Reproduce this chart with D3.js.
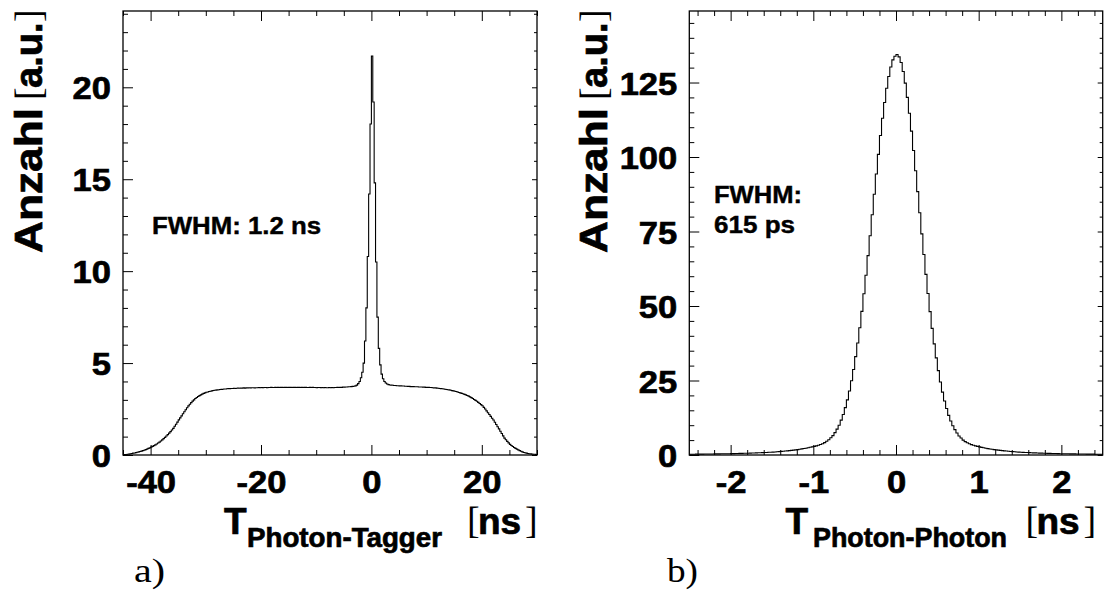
<!DOCTYPE html>
<html><head><meta charset="utf-8">
<script src="https://cdn.jsdelivr.net/npm/d3@7"></script>
<style>body{margin:0;background:#fff} svg{display:block}</style>
</head><body>
<svg id="c" width="1104" height="605"></svg>
<script>
// ---- Panel a) : T(Photon-Tagger), bins of 0.25 ns from -45 ns ----
const tagStart = -45, tagBinWidth = 0.25;
const tagCounts = [
0.01,0.02,0.03,0.04, 0.05,0.07,0.08,0.10, 0.11,0.13,0.15,0.17, 0.19,0.21,0.24,0.26, 0.29,0.32,0.36,0.39,
0.43,0.47,0.51,0.55, 0.60,0.65,0.70,0.76, 0.82,0.89,0.96,1.03, 1.11,1.19,1.27,1.36, 1.45,1.56,1.67,1.79,
1.91,2.02,2.13,2.24, 2.35,2.46,2.57,2.67, 2.76,2.85,2.93,3.00, 3.07,3.13,3.18,3.23, 3.27,3.31,3.35,3.38,
3.41,3.43,3.45,3.47, 3.49,3.51,3.52,3.53, 3.54,3.55,3.56,3.57, 3.58,3.59,3.59,3.60, 3.61,3.61,3.62,3.62,
3.63,3.62,3.63,3.64, 3.63,3.64,3.64,3.65, 3.64,3.65,3.65,3.66, 3.65,3.66,3.66,3.65, 3.66,3.66,3.67,3.66,
3.67,3.66,3.67,3.67, 3.66,3.67,3.67,3.68, 3.67,3.67,3.68,3.67, 3.68,3.67,3.68,3.68, 3.67,3.68,3.68,3.67,
3.68,3.68,3.67,3.68, 3.68,3.67,3.68,3.68, 3.67,3.68,3.67,3.68, 3.68,3.67,3.67,3.68, 3.67,3.68,3.67,3.67,
3.66,3.67,3.67,3.66, 3.67,3.66,3.67,3.66, 3.66,3.67,3.66,3.67, 3.66,3.67,3.67,3.68, 3.67,3.68,3.68,3.69,
3.69,3.70,3.70,3.71, 3.71,3.72,3.73,3.74, 3.76,3.80,3.88,4.00, 4.20,4.50,5.00,6.20, 8.00,10.8,14.2,18.0,
21.7,19.2,14.8,10.5, 7.50,5.80,4.90,4.40, 4.15,4.00,3.92,3.86, 3.83,3.81,3.80,3.79, 3.78,3.78,3.77,3.77,
3.76,3.76,3.75,3.75, 3.74,3.74,3.73,3.73, 3.72,3.72,3.72,3.71, 3.71,3.71,3.70,3.70, 3.70,3.69,3.69,3.68,
3.68,3.68,3.67,3.67, 3.66,3.65,3.65,3.64, 3.63,3.62,3.61,3.60, 3.59,3.58,3.56,3.55, 3.54,3.52,3.50,3.49,
3.47,3.45,3.43,3.40, 3.38,3.35,3.33,3.30, 3.27,3.24,3.20,3.16, 3.12,3.07,3.02,2.97, 2.92,2.86,2.80,2.74,
2.68,2.59,2.50,2.40, 2.30,2.20,2.10,2.00, 1.90,1.78,1.66,1.54, 1.42,1.29,1.17,1.04, 0.92,0.83,0.74,0.66,
0.58,0.52,0.46,0.41, 0.36,0.32,0.28,0.24, 0.20,0.17,0.14,0.12, 0.10,0.08,0.07,0.06, 0.05,0.04,0.04,0.03
];
const tagXDomain = [-45, 30];
const tagYDomain = [0, 24.15];
const tagXTicks = [-40, -20, 0, 20];
const tagYTicks = [0, 5, 10, 15, 20];

// ---- Panel b) : T(Photon-Photon), bins of 0.025 ns from -2.5 ns ----
const ppStart = -2.5, ppBinWidth = 0.025;
const ppCounts = [
0.25,0.26,0.27,0.28,0.29,0.30,0.31,0.32,0.33,0.34,0.35,0.36,0.37,0.38,0.39,0.40,0.41,0.42,0.43,0.44,
0.45,0.47,0.49,0.51,0.53,0.55,0.57,0.59,0.61,0.63,0.66,0.68,0.71,0.74,0.77,0.80,0.83,0.86,0.90,0.94,
0.98,1.03,1.08,1.14,1.20,1.26,1.33,1.40,1.47,1.55,1.63,1.72,1.82,1.93,2.04,2.16,2.29,2.43,2.58,2.74,
2.90,3.07,3.27,3.50,3.80,4.15,4.60,5.10,5.80,6.50,7.50,8.70,10.0,11.7,13.6,15.9,18.5,21.5,24.9,28.7,
33.0,37.6,42.7,48.2,54.1,60.3,66.9,73.6,80.6,87.5,94.3,100.9,107.2,113.0,118.3,123.1,127.0,130.2,132.6,133.8,
134.4,133.6,131.7,128.7,124.8,120.0,114.7,108.7,102.2,95.4,88.4,81.3,74.2,67.3,60.6,54.2,48.1,42.5,37.3,32.6,
28.3,24.5,21.1,18.1,15.6,13.3,11.4,9.8,8.5,7.4,6.4,5.7,5.0,4.5,4.1,3.76,3.48,3.25,3.05,2.89,
2.73,2.57,2.42,2.28,2.15,2.03,1.92,1.80,1.71,1.62,1.54,1.46,1.39,1.32,1.25,1.18,1.12,1.07,1.02,0.97,
0.93,0.89,0.85,0.82,0.79,0.76,0.73,0.70,0.67,0.64,0.62,0.60,0.58,0.56,0.54,0.52,0.50,0.48,0.46,0.44,
0.43,0.42,0.41,0.40,0.39,0.38,0.37,0.36,0.35,0.34,0.33,0.32,0.31,0.30,0.29,0.28,0.27,0.26,0.25,0.24
];
const ppXDomain = [-2.5, 2.5];
const ppYDomain = [0, 149];
const ppXTicks = [-2, -1, 0, 1, 2];
const ppYTicks = [0, 25, 50, 75, 100, 125];

const SANS = '"Liberation Sans", Arial, Helvetica, sans-serif';
const SERIF = '"Liberation Serif", "Times New Roman", serif';
const svg = d3.select('#c');
const TOP = 11, BOT = 455;
const LBL = 32, LBLX = 1.08;   // tick label size and horizontal stretch
const fmt = d => String(d);     // plain hyphen-minus, integers
const HEAVY = 0.7;              // extra stroke to mimic the heavy bold face

function bold(sel, size) {
  return sel.attr('font-family', SANS).attr('font-weight', 'bold').attr('font-size', size)
    .attr('fill', '#000').attr('stroke', '#000').attr('stroke-width', HEAVY);
}

function drawPanel(o) {
  const x = d3.scaleLinear().domain(o.xDomain).range([o.left, o.right]);
  const y = d3.scaleLinear().domain(o.yDomain).range([BOT, TOP]);
  const g = svg.append('g');

  // histogram (step outline)
  const pts = o.counts.map((v, i) => [o.start + i * o.bw, v]);
  pts.push([o.start + o.counts.length * o.bw, o.counts[o.counts.length - 1]]);
  const line = d3.line().x(d => x(d[0])).y(d => y(d[1])).curve(d3.curveStepAfter);
  g.append('path').attr('d', line(pts)).attr('fill', 'none')
    .attr('stroke', '#000').attr('stroke-width', 1.1);

  const styleAxis = sel => sel.attr('font-family', SANS).attr('font-size', LBL)
    .attr('font-weight', 'bold').attr('color', '#000')
    .call(s => s.select('.domain').remove());

  const eq = (a, b) => Math.abs(a - b) < 1e-6;
  const xMinor = o.xMinor.filter(v => !o.xTicks.some(t => eq(t, v)));
  const yMinor = o.yMinor.filter(v => !o.yTicks.some(t => eq(t, v)));

  // bottom
  g.append('g').attr('transform', `translate(0,${BOT})`)
    .call(d3.axisBottom(x).tickValues(o.xTicks).tickFormat(fmt).tickSizeInner(-10).tickSizeOuter(0))
    .call(styleAxis)
    .call(s => s.selectAll('text').attr('y', 38).attr('dy', 0)
      .attr('transform', `scale(${LBLX},1)`).attr('fill', '#000')
      .attr('stroke', '#000').attr('stroke-width', HEAVY));
  g.append('g').attr('transform', `translate(0,${BOT})`)
    .call(d3.axisBottom(x).tickValues(xMinor).tickSizeInner(-5).tickSizeOuter(0).tickFormat(''))
    .call(styleAxis);
  // top
  g.append('g').attr('transform', `translate(0,${TOP})`)
    .call(d3.axisTop(x).tickValues(o.xTicks).tickSizeInner(-10).tickSizeOuter(0).tickFormat(''))
    .call(styleAxis);
  g.append('g').attr('transform', `translate(0,${TOP})`)
    .call(d3.axisTop(x).tickValues(xMinor).tickSizeInner(-5).tickSizeOuter(0).tickFormat(''))
    .call(styleAxis);
  // left
  g.append('g').attr('transform', `translate(${o.left},0)`)
    .call(d3.axisLeft(y).tickValues(o.yTicks).tickFormat(fmt).tickSizeInner(-10).tickSizeOuter(0))
    .call(styleAxis)
    .call(s => s.selectAll('text').attr('x', -12 / LBLX).attr('dy', '0.36em')
      .attr('transform', `scale(${LBLX},1)`).attr('fill', '#000')
      .attr('stroke', '#000').attr('stroke-width', HEAVY));
  g.append('g').attr('transform', `translate(${o.left},0)`)
    .call(d3.axisLeft(y).tickValues(yMinor).tickSizeInner(-5).tickSizeOuter(0).tickFormat(''))
    .call(styleAxis);
  // right
  g.append('g').attr('transform', `translate(${o.right},0)`)
    .call(d3.axisRight(y).tickValues(o.yTicks).tickSizeInner(-5).tickSizeOuter(0).tickFormat(''))
    .call(styleAxis);
  g.append('g').attr('transform', `translate(${o.right},0)`)
    .call(d3.axisRight(y).tickValues(yMinor).tickSizeInner(-3).tickSizeOuter(0).tickFormat(''))
    .call(styleAxis);

  // frame
  g.append('rect').attr('x', o.left).attr('y', TOP)
    .attr('width', o.right - o.left).attr('height', BOT - TOP)
    .attr('fill', 'none').attr('stroke', '#000').attr('stroke-width', 1.3);

  // x title
  const t = g.append('g');
  bold(t.append('text').attr('x', o.tX).attr('y', 534), 37).text('T');
  bold(t.append('text').attr('x', o.subX).attr('y', 547), 27.5)
    .attr('textLength', o.subLen).attr('lengthAdjust', 'spacingAndGlyphs').text(o.sub);
  t.append('text').attr('x', o.ubX).attr('y', 533).attr('font-family', SERIF)
    .attr('font-size', 38).text('[');
  bold(t.append('text').attr('x', o.ubX + 11).attr('y', 534), 37).text('ns');
  t.append('text').attr('x', o.ubX + 58).attr('y', 533).attr('font-family', SERIF)
    .attr('font-size', 38).text(']');

  // y title (rotated)
  const yt = g.append('g').attr('transform', `translate(${o.yTitleX},253) rotate(-90)`);
  bold(yt.append('text').attr('x', 0).attr('y', 0), 39)
    .attr('textLength', 145).attr('lengthAdjust', 'spacingAndGlyphs').text('Anzahl');
  yt.append('text').attr('x', 153).attr('y', -1).attr('font-family', SERIF)
    .attr('font-size', 38).text('[');
  bold(yt.append('text').attr('x', 165).attr('y', 0), 38).text('a.u.');
  yt.append('text').attr('x', 231).attr('y', -1).attr('font-family', SERIF)
    .attr('font-size', 38).text(']');

  // annotation
  o.notes.forEach(n => {
    bold(g.append('text').attr('x', n.x).attr('y', n.y), 23).attr('stroke-width', 0.4)
      .attr('textLength', n.len).attr('lengthAdjust', 'spacingAndGlyphs').text(n.text);
  });

  // panel letter
  g.append('text').attr('x', o.letterX).attr('y', 582).attr('font-family', SERIF)
    .attr('font-size', 33).attr('textLength', 31).attr('lengthAdjust', 'spacingAndGlyphs')
    .text(o.letter);
}

drawPanel({
  left: 123, right: 537, xDomain: tagXDomain, yDomain: tagYDomain,
  counts: tagCounts, start: tagStart, bw: tagBinWidth,
  xTicks: tagXTicks, yTicks: tagYTicks,
  xMinor: d3.range(-45, 30.001, 5), yMinor: d3.range(0, 24.01, 1),
  tX: 224, subX: 247, sub: 'Photon-Tagger', subLen: 195, ubX: 467,
  yTitleX: 42,
  notes: [{x: 152, y: 234, text: 'FWHM: 1.2 ns', len: 169}],
  letter: 'a)', letterX: 134
});

drawPanel({
  left: 689.3, right: 1102.7, xDomain: ppXDomain, yDomain: ppYDomain,
  counts: ppCounts, start: ppStart, bw: ppBinWidth,
  xTicks: ppXTicks, yTicks: ppYTicks,
  xMinor: d3.range(-12, 13).map(i => i * 0.2), yMinor: d3.range(0, 149, 5),
  tX: 785.5, subX: 813, sub: 'Photon-Photon', subLen: 194, ubX: 1025.5,
  yTitleX: 607,
  notes: [{x: 714, y: 202.5, text: 'FWHM:', len: 88}, {x: 714, y: 233.3, text: '615 ps', len: 81}],
  letter: 'b)', letterX: 667
});
</script>
</body></html>
